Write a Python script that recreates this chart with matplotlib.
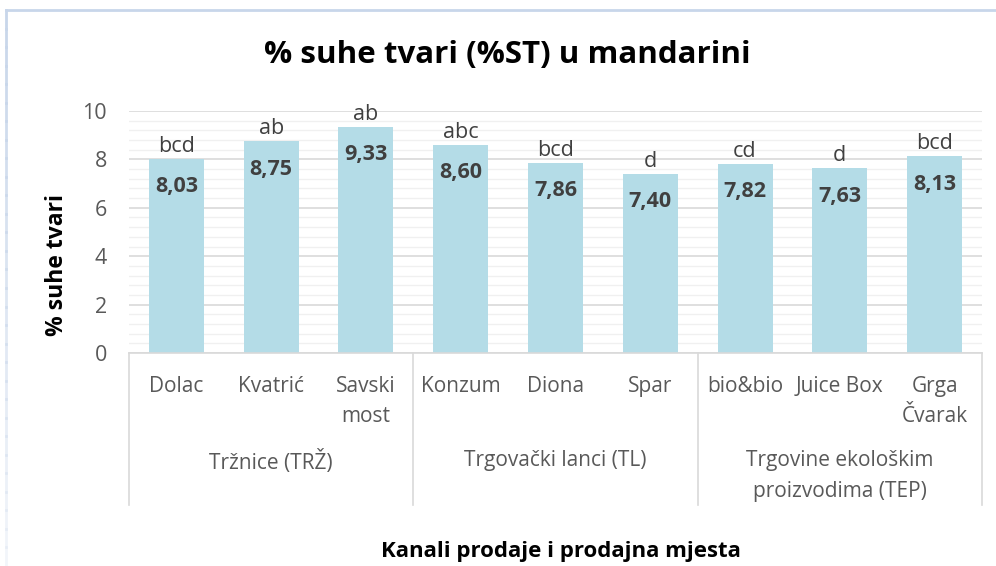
"""% suhe tvari u mandarini - Excel-style bar chart with grouped category axis."""

import matplotlib

matplotlib.use("Agg")
import matplotlib.pyplot as plt
from matplotlib.lines import Line2D

plt.rcParams["font.family"] = ["Open Sans", "DejaVu Sans"]

# data
places = ["Dolac", "Kvatrić", "Savski\nmost", "Konzum", "Diona", "Spar",
          "bio&bio", "Juice Box", "Grga\nČvarak"]
values = [8.03, 8.75, 9.33, 8.60, 7.86, 7.40, 7.82, 7.63, 8.13]
letters = ["bcd", "ab", "ab", "abc", "bcd", "d", "cd", "d", "bcd"]
groups = ["Tržnice (TRŽ)", "Trgovački lanci (TL)", "Trgovine ekološkim\nproizvodima (TEP)"]
group_sizes = [3, 3, 3]
yticks = [0, 2, 4, 6, 8, 10]

BAR = "#b4dce7"
TXT = "#404040"
TICK = "#595959"
W, H = 996, 566

fig = plt.figure(figsize=(W / 100, H / 100), dpi=100)
ax = fig.add_axes([129 / W, 1 - 353 / H, (982 - 129) / W, (353 - 111) / H])

x = list(range(len(values)))
ax.bar(x, values, width=0.58, color=BAR, zorder=3)
ax.set_xlim(-0.5, len(values) - 0.5)
ax.set_ylim(0, 10)

# gridlines: major every 2, minor every 0.4
ax.set_yticks(yticks)
ax.set_yticks([i * 0.4 for i in range(26)], minor=True)
ax.yaxis.grid(True, which="major", color="#d9d9d9", linewidth=1.2, zorder=0)
ax.yaxis.grid(True, which="minor", color="#f0f0f0", linewidth=1.0, zorder=0)
ax.tick_params(axis="y", which="both", length=0, labelsize=15.5, labelcolor=TICK, pad=16)
ax.set_xticks([])
for side in ["left", "right", "top"]:
    ax.spines[side].set_visible(False)
ax.spines["bottom"].set_color("#d9d9d9")
ax.spines["bottom"].set_linewidth(1.2)
ax.spines["bottom"].set_zorder(4)

# value labels and significance letters
for xi, v, lt in zip(x, values, letters):
    ax.annotate(f"{v:.2f}".replace(".", ","), (xi, v), xytext=(0, -20),
                textcoords="offset points", ha="center", va="center",
                fontsize=15.5, fontweight="bold", color=TXT, zorder=5)
    ax.annotate(lt, (xi, v), xytext=(0, 9), textcoords="offset points",
                ha="center", va="center", fontsize=15.5, color=TXT, zorder=5)

# multi-level category axis
tr = ax.get_xaxis_transform()
ax_h = 353 - 111
for xi, name in zip(x, places):
    ax.text(xi, -23 / ax_h, name, transform=tr, ha="center", va="top",
            fontsize=15, color=TICK, linespacing=1.55, multialignment="center")

start = 0
bounds = [-0.5]
for g, n in zip(groups, group_sizes):
    center = start + (n - 1) / 2
    ax.text(center, -97 / ax_h, g, transform=tr, ha="center", va="top",
            fontsize=15, color=TICK, linespacing=1.6, multialignment="center")
    start += n
    bounds.append(start - 0.5)
for b in bounds:
    ax.plot([b, b], [0, -152 / ax_h], transform=tr, color="#d9d9d9",
            linewidth=1.2, clip_on=False)

fig.text(57 / W, 1 - 265 / H, "% suhe tvari", rotation=90, ha="center", va="center",
         fontsize=16.5, fontweight="bold", color="black")
fig.text(561 / W, 1 - 552 / H, "Kanali prodaje i prodajna mjesta",
         ha="center", va="center", fontsize=16, fontweight="bold", color="black")
fig.text(507 / W, 1 - 55 / H, "% suhe tvari (%ST) u mandarini",
         ha="center", va="center", fontsize=22.5, fontweight="bold", color="black")

# light chart border (top and left edge)
fig.add_artist(Line2D([6 / W, 1], [1 - 10 / H] * 2, transform=fig.transFigure,
                      color="#c8d6ea", linewidth=2))
n_seg = 30
for i in range(n_seg):
    y0 = 1 - 10 / H - i / n_seg * (1 - 10 / H)
    y1 = 1 - 10 / H - (i + 1) / n_seg * (1 - 10 / H)
    fig.add_artist(Line2D([6 / W] * 2, [y0, y1], transform=fig.transFigure,
                          color="#c8d6ea", linewidth=2, alpha=1 - 0.8 * i / n_seg))

fig.savefig("out.png", dpi=100)
